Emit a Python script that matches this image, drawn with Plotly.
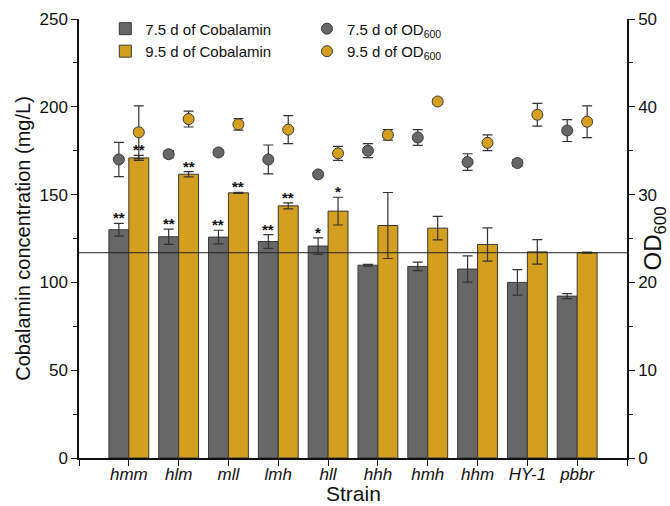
import plotly.graph_objects as go

strains = ["hmm", "hlm", "mll", "lmh", "hll", "hhh", "hmh", "hhm", "HY-1", "pbbr"]
cob_75 = [130.0, 126.0, 125.8, 123.3, 120.7, 109.8, 109.1, 107.6, 100.0, 92.2]
cob_75_err = [3.6, 4.3, 3.9, 3.9, 4.7, 0.5, 2.4, 7.5, 7.3, 1.4]
cob_95 = [170.9, 161.6, 151.0, 143.6, 140.6, 132.4, 130.9, 121.6, 117.4, 116.9]
cob_95_err = [1.4, 1.5, 0.3, 1.7, 7.9, 18.8, 6.7, 9.5, 7.0, 0.3]
od_75 = [34.0, 34.6, 34.8, 34.0, 32.3, 35.0, 36.5, 33.7, 33.6, 37.3]
od_75_err = [1.95, 0.4, 0.3, 1.65, 0.3, 0.8, 0.9, 0.95, 0.4, 1.25]
od_95 = [37.1, 38.6, 38.0, 37.4, 34.7, 36.8, 40.6, 35.9, 39.1, 38.3]
od_95_err = [3.0, 0.9, 0.65, 1.6, 0.8, 0.6, 0.3, 0.9, 1.3, 1.8]
sig_75 = ["**", "**", "**", "**", "*", "", "", "", "", ""]
sig_95 = ["**", "**", "**", "**", "*", "", "", "", "", ""]

GRAY = "#676767"
GOLD = "#D49F1F"
EDGE = "#3a3a3a"
FONT = "Liberation Sans, Arial, sans-serif"

idx = list(range(len(strains)))
x75 = [i - 0.2 for i in idx]
x95 = [i + 0.2 for i in idx]

fig = go.Figure()
fig.add_trace(go.Bar(
    x=x75, y=cob_75, width=0.4, name="7.5 d of Cobalamin",
    marker=dict(color=GRAY, line=dict(color=EDGE, width=1)),
    error_y=dict(type="data", array=cob_75_err, color="#333333", thickness=1.2, width=5),
    legend="legend",
))
fig.add_trace(go.Bar(
    x=x95, y=cob_95, width=0.4, name="9.5 d of Cobalamin",
    marker=dict(color=GOLD, line=dict(color=EDGE, width=1)),
    error_y=dict(type="data", array=cob_95_err, color="#333333", thickness=1.2, width=5),
    legend="legend",
))
fig.add_trace(go.Scatter(
    x=x75, y=od_75, mode="markers", name="7.5 d of OD<sub>600</sub>", yaxis="y2",
    marker=dict(color=GRAY, size=11, line=dict(color=EDGE, width=1)),
    error_y=dict(type="data", array=od_75_err, color="#333333", thickness=1.2, width=5),
    legend="legend2",
))
fig.add_trace(go.Scatter(
    x=x95, y=od_95, mode="markers", name="9.5 d of OD<sub>600</sub>", yaxis="y2",
    marker=dict(color=GOLD, size=11, line=dict(color=EDGE, width=1)),
    error_y=dict(type="data", array=od_95_err, color="#333333", thickness=1.2, width=5),
    legend="legend2",
))

# significance marks
for xs, ys, es, sig in [(x75, cob_75, cob_75_err, sig_75), (x95, cob_95, cob_95_err, sig_95)]:
    for xv, yv, ev, s in zip(xs, ys, es, sig):
        if s:
            fig.add_annotation(x=xv, y=yv + ev, text=f"<b>{s}</b>", showarrow=False,
                               yanchor="bottom", yshift=-5,
                               font=dict(family=FONT, size=15, color="#111"))

# reference line at control level
fig.add_shape(type="line", xref="paper", x0=0, x1=1, yref="y", y0=cob_95[-1], y1=cob_95[-1],
              line=dict(color="#222222", width=1))

# x-axis title placed as annotation for precise position
fig.add_annotation(xref="paper", yref="paper", x=0.5, y=-0.080, text="Strain", showarrow=False,
                   yanchor="middle", borderpad=0,
                   font=dict(family=FONT, size=21, color="#111"))

tickvals = [-1] + idx + [10]
ticktext = [""] + [f"<i>{s}</i>" for s in strains] + [""]

fig.update_layout(
    width=670, height=506,
    margin=dict(l=79, r=43, t=19, b=48),
    plot_bgcolor="white", paper_bgcolor="white",
    barmode="overlay",
    font=dict(family=FONT, color="#111"),
    xaxis=dict(range=[-1, 10], tickvals=tickvals, ticktext=ticktext, automargin=False,
               ticks="outside", ticklen=6, tickcolor="#111", tickwidth=1.3,
               showline=True, linecolor="#111", linewidth=1.5, showgrid=False, zeroline=False,
               tickfont=dict(size=17, family=FONT)),
    yaxis=dict(range=[0, 250], dtick=50, ticks="outside", ticklen=6, tickcolor="#111", tickwidth=1.3,
               automargin=False,
               minor=dict(dtick=25, ticks="outside", ticklen=4, tickcolor="#111"),
               showline=True, linecolor="#111", linewidth=1.5, showgrid=False, zeroline=False,
               tickfont=dict(size=17, family=FONT),
               title=dict(text="Cobalamin concentration (mg/L)", font=dict(size=20, family=FONT), standoff=3)),
    yaxis2=dict(range=[0, 50], dtick=10, overlaying="y", side="right", automargin=False,
                ticks="outside", ticklen=6, tickcolor="#111", tickwidth=1.3,
                minor=dict(dtick=5, ticks="outside", ticklen=4, tickcolor="#111"),
                showline=True, linecolor="#111", linewidth=1.5, showgrid=False, zeroline=False,
                tickfont=dict(size=17, family=FONT),
                title=dict(text="OD<sub>600</sub>", font=dict(size=24, family=FONT), standoff=21)),
    legend=dict(x=0.048, y=1.015, xanchor="left", yanchor="top", bgcolor="rgba(0,0,0,0)",
                font=dict(size=15, family=FONT), tracegroupgap=0),
    legend2=dict(x=0.416, y=1.015, xanchor="left", yanchor="top", bgcolor="rgba(0,0,0,0)",
                 font=dict(size=15, family=FONT), tracegroupgap=0),
    showlegend=True,
)

try:
    fig.layout.xaxis.ticklabelstandoff = -6
except Exception:
    pass

fig.write_html("out.html")
